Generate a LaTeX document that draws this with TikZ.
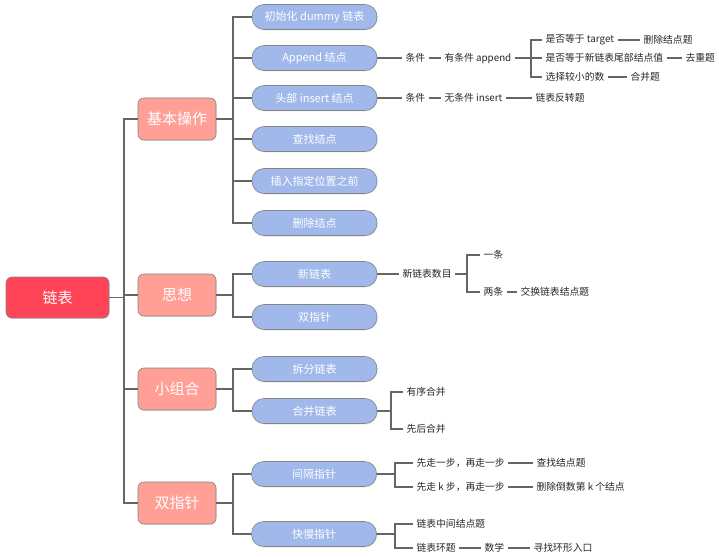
\documentclass[tikz,border=0pt]{standalone}
\usepackage{fontspec}
\setmainfont{Noto Sans CJK SC}
\usetikzlibrary{shadows}
\definecolor{rootred}{HTML}{FF4458}
\definecolor{salmon}{HTML}{FF9F96}
\definecolor{pillblue}{HTML}{A0B8EA}
\definecolor{linegray}{HTML}{666666}
\begin{document}
\begin{tikzpicture}[x=1pt,y=-1pt,
  line width=1.1pt, draw=linegray,
  rootbox/.style={draw=linegray!80, line width=0.6pt, fill=rootred, rounded corners=6pt,
    minimum width=103pt, minimum height=41pt, text=white, font=\fontsize{15}{18}\selectfont,
    drop shadow={opacity=0.2, shadow xshift=0.6pt, shadow yshift=-1pt}},
  topic/.style={draw=linegray!80, line width=0.6pt, fill=salmon, rounded corners=6pt,
    minimum width=78pt, minimum height=42pt, text=white, font=\fontsize{15}{18}\selectfont,
    drop shadow={opacity=0.2, shadow xshift=0.6pt, shadow yshift=-1pt}},
  pill/.style={draw=linegray!80, line width=0.6pt, fill=pillblue, rounded corners=12pt,
    minimum width=125pt, minimum height=25pt, text=white, font=\fontsize{11}{13}\selectfont,
    drop shadow={opacity=0.2, shadow xshift=0.6pt, shadow yshift=-1pt}},
  leaf/.style={anchor=west, inner sep=3pt, text=black!85, font=\fontsize{9.8}{11}\selectfont}]
\useasboundingbox (0,0) rectangle (719,556);
% root and topics
\node [rootbox] (root) at (57.5,297.5) {链表};
\node [topic] (jb) at (177,119) {基本操作};
\node [topic] (sx) at (177,295) {思想};
\node [topic] (xz) at (177,389) {小组合};
\node [topic] (sz) at (177,503) {双指针};
\coordinate (trunk) at (124,297.5);
\draw (root.east) -- (trunk);
\foreach \n in {jb,sx,xz,sz} \draw (trunk) |- (\n.west);
% pills
\node [pill] (p1) at (314.5,17) {初始化 dummy 链表};
\node [pill] (p2) at (314.5,58) {Append 结点};
\node [pill] (p3) at (314.5,98) {头部 insert 结点};
\node [pill] (p4) at (314.5,139) {查找结点};
\node [pill] (p5) at (314.5,181) {插入指定位置之前};
\node [pill] (p6) at (314.5,223) {删除结点};
\node [pill] (q1) at (314.5,274) {新链表};
\node [pill] (q2) at (314.5,317) {双指针};
\node [pill] (r1) at (314.5,369) {拆分链表};
\node [pill] (r2) at (314.5,411) {合并链表};
\node [pill] (s1) at (314,474) {间隔指针};
\node [pill] (s2) at (314,534) {快慢指针};
\coordinate (jbr) at (233,119);
\coordinate (sxr) at (233,295);
\coordinate (xzr) at (233,389);
\coordinate (szr) at (233,503);
\draw (jb.east) -- (jbr);
\foreach \n in {p1,p2,p3,p4,p5,p6} \draw (jbr) |- (\n.west);
\draw (sx.east) -- (sxr);
\foreach \n in {q1,q2} \draw (sxr) |- (\n.west);
\draw (xz.east) -- (xzr);
\foreach \n in {r1,r2} \draw (xzr) |- (\n.west);
\draw (sz.east) -- (szr);
\foreach \n in {s1,s2} \draw (szr) |- (\n.west);
% append
\node [leaf] (c1) at (402,58) {条件};
\node [leaf] (c1a) at (441,58) {有条件 append};
\coordinate (ab) at (531,58);
\node [leaf] (t1) at (542,40) {是否等于 target};
\node [leaf] (t1a) at (640,40) {删除结点题};
\node [leaf] (t2) at (542,58) {是否等于新链表尾部结点值};
\node [leaf] (t2a) at (682,58) {去重题};
\node [leaf] (t3) at (542,77) {选择较小的数};
\node [leaf] (t3a) at (627,77) {合并题};
\draw (p2.east) -- (c1.west);
\draw (c1.east) -- (c1a.west);
\draw (c1a.east) -- (ab);
\foreach \n in {t1,t2,t3} \draw (ab) |- (\n.west);
\draw (t1.east) -- (t1a.west);
\draw (t2.east) -- (t2a.west);
\draw (t3.east) -- (t3a.west);
% insert
\node [leaf] (c2) at (402,98) {条件};
\node [leaf] (c2a) at (441,98) {无条件 insert};
\node [leaf] (c2b) at (532,98) {链表反转题};
\draw (p3.east) -- (c2.west);
\draw (c2.east) -- (c2a.west);
\draw (c2a.east) -- (c2b.west);
% new list
\node [leaf] (n1) at (399,274) {新链表数目};
\coordinate (nb) at (467,274);
\node [leaf] (n2) at (480,255) {一条};
\node [leaf] (n3) at (480,292) {两条};
\node [leaf] (n3a) at (517,292) {交换链表结点题};
\draw (q1.east) -- (n1.west);
\draw (n1.east) -- (nb);
\foreach \n in {n2,n3} \draw (nb) |- (\n.west);
\draw (n3.east) -- (n3a.west);
% merge
\coordinate (hb) at (391,411);
\node [leaf] (h1) at (403,392) {有序合并};
\node [leaf] (h2) at (403,429) {先后合并};
\draw (r2.east) -- (hb);
\foreach \n in {h1,h2} \draw (hb) |- (\n.west);
% gap pointer
\coordinate (gb) at (395,474);
\node [leaf] (g1) at (413,463) {先走一步，再走一步};
\node [leaf] (g1a) at (533,463) {查找结点题};
\node [leaf] (g2) at (413,487) {先走 k 步，再走一步};
\node [leaf] (g2a) at (533,487) {删除倒数第 k 个结点};
\draw (s1.east) -- (gb);
\foreach \n in {g1,g2} \draw (gb) |- (\n.west);
\draw (g1.east) -- (g1a.west);
\draw (g2.east) -- (g2a.west);
% fast slow
\coordinate (kb) at (395,534);
\node [leaf] (k1) at (413,524) {链表中间结点题};
\node [leaf] (k2) at (413,548) {链表环题};
\node [leaf] (k2a) at (481,548) {数学};
\node [leaf] (k2b) at (530,548) {寻找环形入口};
\draw (s2.east) -- (kb);
\foreach \n in {k1,k2} \draw (kb) |- (\n.west);
\draw (k2.east) -- (k2a.west);
\draw (k2a.east) -- (k2b.west);
\end{tikzpicture}
\end{document}
